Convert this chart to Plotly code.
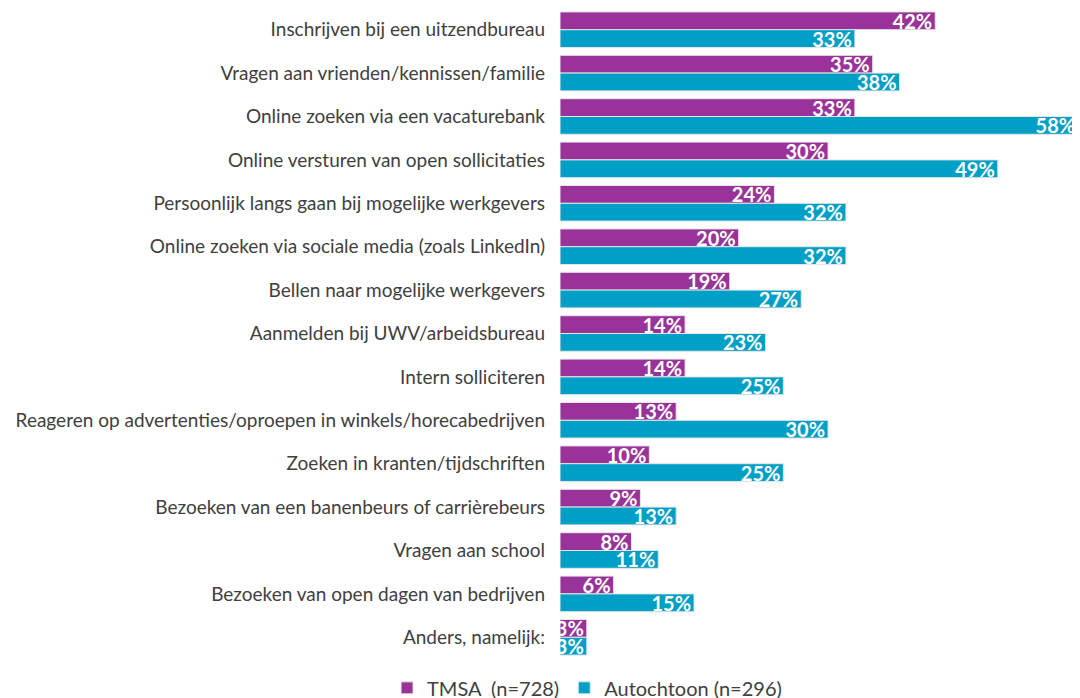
import plotly.graph_objects as go

categories = [
    "Inschrijven bij een uitzendbureau",
    "Vragen aan vrienden/kennissen/familie",
    "Online zoeken via een vacaturebank",
    "Online versturen van open sollicitaties",
    "Persoonlijk langs gaan bij mogelijke werkgevers",
    "Online zoeken via sociale media (zoals LinkedIn)",
    "Bellen naar mogelijke werkgevers",
    "Aanmelden bij UWV/arbeidsbureau",
    "Intern solliciteren",
    "Reageren op advertenties/oproepen in winkels/horecabedrijven",
    "Zoeken in kranten/tijdschriften",
    "Bezoeken van een banenbeurs of carrièrebeurs",
    "Vragen aan school",
    "Bezoeken van open dagen van bedrijven",
    "Anders, namelijk:",
]
tmsa = [42, 35, 33, 30, 24, 20, 19, 14, 14, 13, 10, 9, 8, 6, 3]
autochtoon = [33, 38, 58, 49, 32, 32, 27, 23, 25, 30, 25, 13, 11, 15, 3]
series_names = ["TMSA  (n=728)", "Autochtoon (n=296)"]

purple = "#993399"
teal = "#00A0C6"
font_fam = "Lato, Noto Sans, sans-serif"

fig = go.Figure()
for name, vals, col in [(series_names[0], tmsa, purple), (series_names[1], autochtoon, teal)]:
    fig.add_trace(go.Bar(
        y=categories, x=vals, name=name, orientation="h",
        marker=dict(color=col, line=dict(color="#e6e6e6", width=1)),
        text=[f"{v}%" for v in vals],
        textposition="inside", insidetextanchor="end",
        textfont=dict(color="white", size=20, family=font_fam, weight="bold"),
        cliponaxis=False,
    ))

fig.update_layout(
    width=1072, height=698,
    barmode="group", bargap=0.18, bargroupgap=0.0,
    margin=dict(l=552, r=0, t=0, b=47),
    plot_bgcolor="white", paper_bgcolor="white",
    font=dict(family=font_fam, color="#404040", size=16),
    uniformtext=dict(minsize=20, mode="show"),
    xaxis=dict(range=[0, 58.2], visible=False, automargin=False),
    yaxis=dict(autorange="reversed", showline=False, showgrid=False,
               ticks="", ticklabelstandoff=14, automargin=False,
               tickfont=dict(size=19, color="#404040", family=font_fam)),
    legend=dict(orientation="h", x=0.052, xanchor="center",
                yref="container", y=0.026, yanchor="middle",
                font=dict(size=20, color="#404040"), traceorder="normal"),
    showlegend=True,
)

fig.write_html("out.html")
